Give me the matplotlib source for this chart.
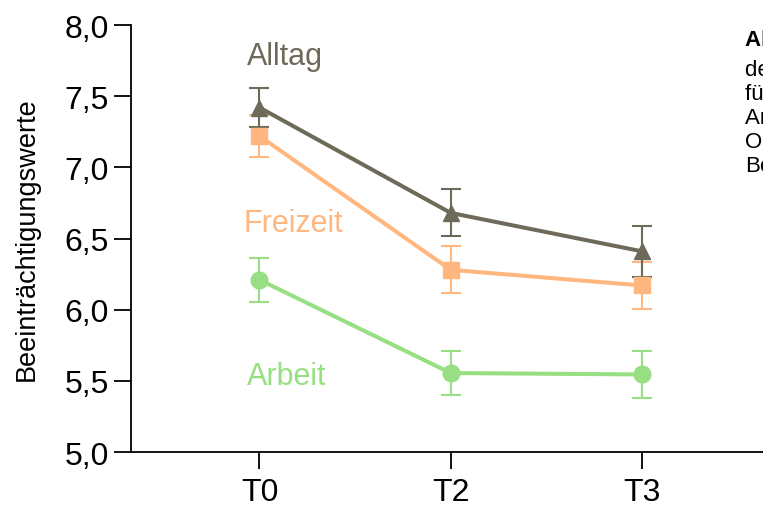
import matplotlib
matplotlib.use("Agg")
import matplotlib.pyplot as plt

plt.rcParams['font.family'] = ['Liberation Sans', 'DejaVu Sans']

# Messzeitpunkte
zeitpunkte = ["T0", "T2", "T3"]

# Mittelwerte und Fehlerbalken je Bereich
alltag = [7.42, 6.68, 6.41]
alltag_err = [0.14, 0.165, 0.18]
freizeit = [7.22, 6.28, 6.17]
freizeit_err = [0.15, 0.165, 0.165]
arbeit = [6.21, 5.555, 5.545]
arbeit_err = [0.155, 0.155, 0.165]

y_ticks = [5.0, 5.5, 6.0, 6.5, 7.0, 7.5, 8.0]
y_ticklabels = ["5,0", "5,5", "6,0", "6,5", "7,0", "7,5", "8,0"]

c_alltag = "#6e6a5a"
c_freizeit = "#ffb77f"
c_arbeit = "#98de82"

fig = plt.figure(figsize=(7.63, 5.06), dpi=100)
ax = fig.add_axes([0.1717, 0.1047, 0.85, 0.8439])

x = list(range(len(zeitpunkte)))
common = dict(linewidth=2.9, elinewidth=1.5, capsize=7, capthick=1.5,
              markersize=12)
ax.errorbar(x, arbeit, yerr=arbeit_err, color=c_arbeit, marker="o", **common)
ax.errorbar(x, freizeit, yerr=freizeit_err, color=c_freizeit, marker="s",
            **common)
ax.errorbar(x, alltag, yerr=alltag_err, color=c_alltag, marker="^", **common)

ax.text(-0.068, 7.725, "Alltag", color=c_alltag, fontsize=22)
ax.text(-0.085, 6.55, "Freizeit", color=c_freizeit, fontsize=22)
ax.text(-0.068, 5.48, "Arbeit", color=c_arbeit, fontsize=22)

ax.set_xlim(-0.672, 2.72)
ax.set_ylim(5.0, 8.0)
ax.set_xticks(x)
ax.set_xticklabels(zeitpunkte)
ax.set_yticks(y_ticks)
ax.set_yticklabels(y_ticklabels)
ax.tick_params(axis="both", labelsize=23, length=12, width=1.3,
               color="black")
ax.tick_params(axis="y", pad=4)
ax.tick_params(axis="x", pad=6)
ax.set_ylabel("Beeinträchtigungswerte", fontsize=19.5, labelpad=18)

for side in ("top", "right"):
    ax.spines[side].set_visible(False)
for side in ("left", "bottom"):
    ax.spines[side].set_linewidth(1.3)
ax.spines["left"].set_bounds(5.0, 8.0)

# Bildunterschrift am rechten Rand
cap_x = 745 / 763
lines = ["Abbildung 2", "der Beeinträchtigung", "für die Bereiche",
         "Arbeit, Freizeit und", "Ohne Angabe", "Befragung"]
baselines = [46, 76, 100, 124, 148, 172]
for i, (t, yp) in enumerate(zip(lines, baselines)):
    fig.text(cap_x, 1 - yp / 506, t, fontsize=16, va="baseline",
             fontweight="bold" if i == 0 else "normal")

fig.savefig("out.png", dpi=100)
